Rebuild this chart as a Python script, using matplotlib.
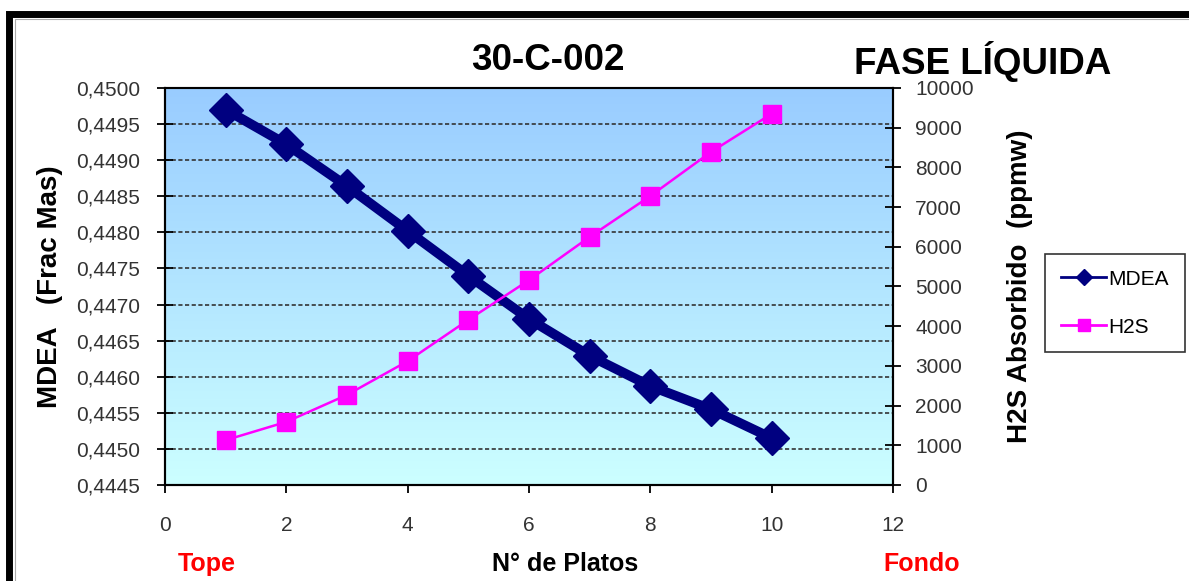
import numpy as np
import matplotlib
matplotlib.use('Agg')
import matplotlib.pyplot as plt
from matplotlib.lines import Line2D
from matplotlib.patches import Rectangle
from matplotlib.ticker import FuncFormatter

plt.rcParams['font.family'] = ['Liberation Sans', 'DejaVu Sans']

# datos
platos = [1, 2, 3, 4, 5, 6, 7, 8, 9, 10]
mdea = [0.44970, 0.44922, 0.44864, 0.44802, 0.44740, 0.44680, 0.44629, 0.44587, 0.44555, 0.44515]
h2s = [1130, 1590, 2270, 3120, 4160, 5160, 6250, 7280, 8390, 9350]

fig = plt.figure(figsize=(11.89, 5.81), dpi=100)

# marco negro
fig.patches.append(Rectangle((9/1189, -0.1), 1.2, (581 - 14)/581 + 0.1, transform=fig.transFigure,
                             fill=False, edgecolor='black', linewidth=5))
fig.patches.append(Rectangle((15/1189, -0.1), 1.2, (581 - 19)/581 + 0.1, transform=fig.transFigure,
                             fill=False, edgecolor='#aaaaaa', linewidth=0.8))

ax = fig.add_axes([165/1189, 1 - 485/581, (893 - 165)/1189, (485 - 88)/581])
ax2 = ax.twinx()

# fondo degradado
grad = np.linspace(0, 1, 256).reshape(-1, 1)
top = np.array([0.60, 0.80, 1.0])
bot = np.array([0.80, 1.0, 1.0])
img = top + (bot - top) * grad[:, :, None]
ax.imshow(img, extent=[0, 1, 0, 1], transform=ax.transAxes, aspect='auto', zorder=0)

ax.set_xlim(0, 12)
ax.set_ylim(0.4445, 0.4500)
ax2.set_ylim(0, 10000)
ax.set_xticks(range(0, 13, 2))
ax.set_yticks(np.arange(0.4445, 0.45001, 0.0005))
ax2.set_yticks(range(0, 10001, 1000))
ax.yaxis.set_major_formatter(FuncFormatter(lambda v, p: f'{v:.4f}'.replace('.', ',')))

for y in np.arange(0.4450, 0.44951, 0.0005):
    ax.axhline(y, color='#333333', linestyle=(0, (2.5, 1.5)), linewidth=1.2, zorder=1)

ax.plot(platos, mdea, color='#000080', linewidth=7, marker='D', markersize=17, zorder=3)
ax2.plot(platos, h2s, color='#ff00ff', linewidth=1.8, marker='s', markersize=13, zorder=3)

for a in (ax, ax2):
    for s in a.spines.values():
        s.set_linewidth(1.5)
    a.tick_params(labelsize=15, labelcolor='#333333', width=1.3)
ax.tick_params(axis='y', direction='inout', length=12, pad=12)
ax2.tick_params(axis='y', direction='inout', length=12, pad=10)
ax.tick_params(axis='x', direction='out', length=6, pad=16)
ax.spines['top'].set_color('#888888')

ax.set_ylabel('MDEA   (Frac Mas)', fontsize=20, fontweight='bold', labelpad=9)
ax2.set_ylabel('H2S Absorbido  (ppmw)', fontsize=20, fontweight='bold', labelpad=24)

fig.text(548/1189, 1 - 61/581, '30-C-002', fontsize=26.5, fontweight='bold', ha='center', va='center')
fig.text(983/1189, 1 - 61/581, 'FASE LÍQUIDA', fontsize=26.5, fontweight='bold', ha='center', va='center')
fig.text(565/1189, 1 - 564/581, 'N° de Platos', fontsize=18, fontweight='bold', ha='center', va='center')
fig.text(207/1189, 1 - 564/581, 'Tope', fontsize=18, fontweight='bold', color='red', ha='center', va='center')
fig.text(922/1189, 1 - 564/581, 'Fondo', fontsize=18, fontweight='bold', color='red', ha='center', va='center')

handles = [Line2D([], [], color='#000080', linewidth=2, marker='D', markersize=8),
           Line2D([], [], color='#ff00ff', linewidth=2, marker='s', markersize=9)]
leg = fig.legend(handles, ['MDEA', 'H2S'], loc='upper left', bbox_to_anchor=(1045/1189, 1 - 254/581),
                 fontsize=15, frameon=True, fancybox=False, edgecolor='black', handlelength=2.2,
                 labelspacing=1.4, handletextpad=0.1, borderpad=0.75, borderaxespad=0)
leg.get_frame().set_linewidth(1.2)

fig.savefig('out.png', dpi=100)
